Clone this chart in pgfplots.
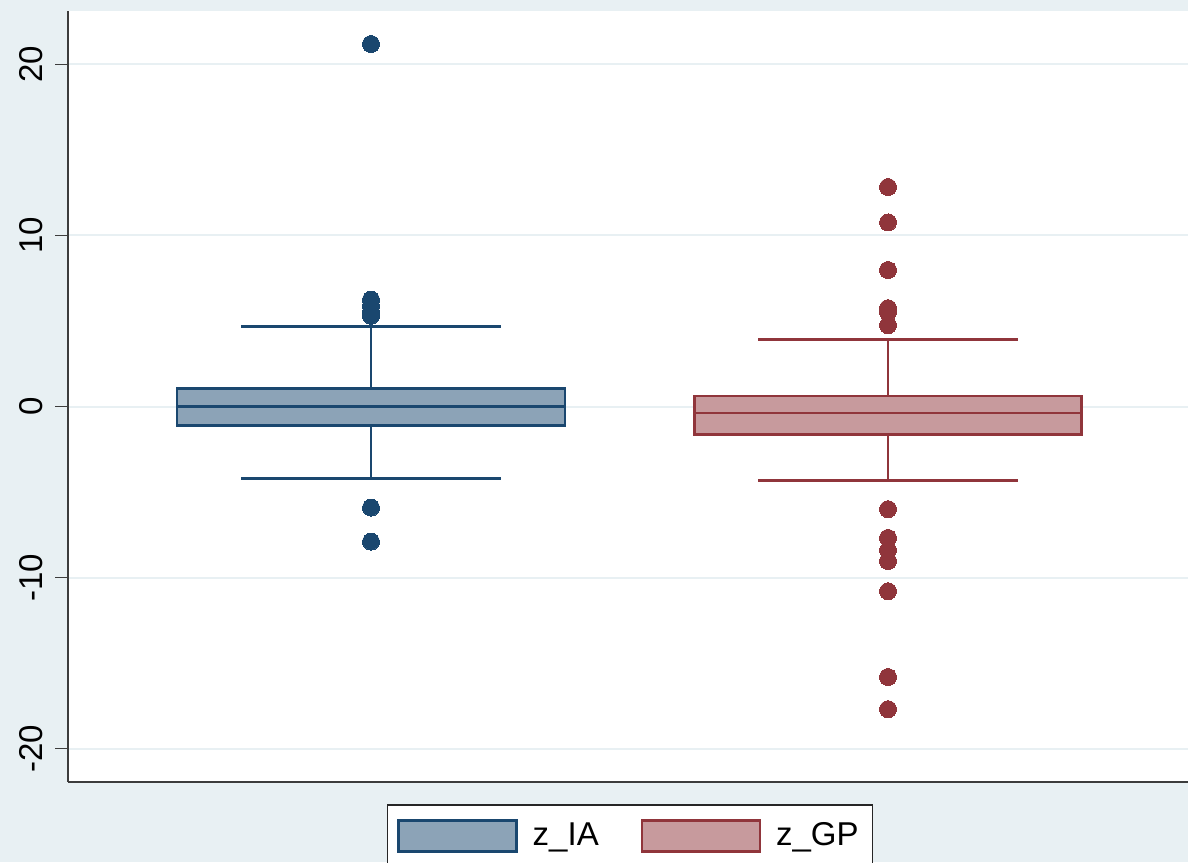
\documentclass[border=0pt]{standalone}
\usepackage{fontspec}
\setmainfont{Liberation Sans}
\usepackage{pgfplots}
\usepgfplotslibrary{statistics}
\pgfplotsset{compat=1.18}
\definecolor{bgc}{RGB}{232,240,243}
\definecolor{navy}{RGB}{26,71,111}
\definecolor{maroon}{RGB}{144,53,59}
\definecolor{gridc}{RGB}{232,240,243}
\definecolor{axc}{RGB}{60,60,60}
\begin{document}
\begin{tikzpicture}
\fill[bgc] (0,0) rectangle (594pt,431pt);
\useasboundingbox (0,0) rectangle (594pt,431pt);
\begin{axis}[
  at={(34pt,40.15pt)}, anchor=south west,
  scale only axis, width=560pt, height=385.35pt,
  xmin=0, xmax=11.20, ymin=-21.93, ymax=23.12,
  axis background/.style={fill=white},
  axis x line*=bottom, axis y line*=left,
  axis line style={axc, line width=1pt},
  xtick=\empty,
  ytick={-20,-10,0,10,20},
  yticklabels={{-20},{-10},{0},{10},{20}},
  tick align=outside, major tick length=6.5pt,
  tick style={axc, line width=0.8pt},
  ymajorgrids, grid style={gridc, line width=1pt},
  yticklabel style={xshift=-6pt, rotate=90, anchor=south, inner sep=0pt,
    font=\fontsize{16.5}{16.5}\selectfont},
  boxplot/draw direction=y,
  legend columns=2,
  legend style={at={(0.5018,0)}, anchor=north, yshift=-11.15pt,
    draw=black!85, line width=0.75pt, fill=white,
    inner xsep=5pt, inner ysep=7pt,
    font=\fontsize{16.5}{16.5}\selectfont,
    /tikz/every even column/.append style={column sep=19pt}},
]
\addlegendimage{legend image code/.code={\draw[draw=navy, fill=navy!50!white, line width=1.3pt] (0pt,-7.75pt) rectangle (59pt,7.75pt); \path[draw=none, fill=none] (0pt,0pt) -- (65pt,0pt);}}
\addlegendentry{z\_IA}
\addlegendimage{legend image code/.code={\draw[draw=maroon, fill=maroon!50!white, line width=1.3pt] (0pt,-7.75pt) rectangle (59pt,7.75pt); \path[draw=none, fill=none] (0pt,0pt) -- (65pt,0pt);}}
\addlegendentry{z\_GP}
\addplot[forget plot, solid, draw=navy, fill=navy!50!white, line width=1.3pt,
  mark=*, mark size=4.25pt, mark options={fill=navy, draw=navy, line width=0pt},
  boxplot prepared={draw position=3.03, lower whisker=-4.22, lower quartile=-1.12,
    median=-0.01, upper quartile=1.07, upper whisker=4.67,
    box extend=3.88, whisker extend=2.60}]
  table[row sep=\\, y index=0] {21.19\\ 6.25\\ 5.9\\ 5.55\\ 5.3\\ -5.91\\ -7.90\\};
\addplot[forget plot, solid, draw=maroon, fill=maroon!50!white, line width=1.3pt,
  mark=*, mark size=4.25pt, mark options={fill=maroon, draw=maroon, line width=0pt},
  boxplot prepared={draw position=8.20, lower whisker=-4.33, lower quartile=-1.62,
    median=-0.39, upper quartile=0.62, upper whisker=3.91,
    box extend=3.87, whisker extend=2.60}]
  table[row sep=\\, y index=0] {12.83\\ 10.76\\ 7.98\\ 5.75\\ 5.5\\ 4.75\\ -6.0\\ -7.68\\ -8.41\\ -9.03\\ -10.80\\ -15.81\\ -17.69\\};
\end{axis}
\end{tikzpicture}
\end{document}
